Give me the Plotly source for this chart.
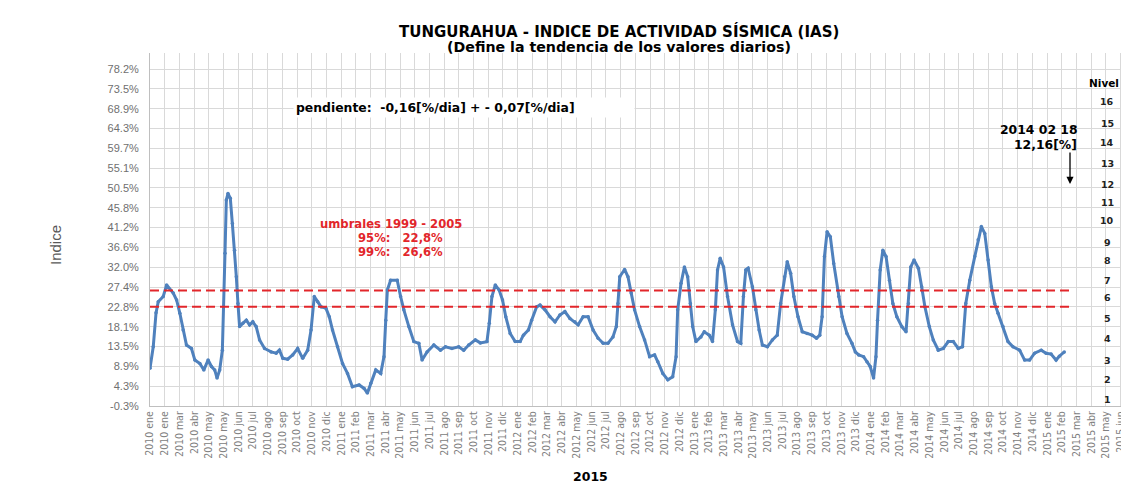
import plotly.graph_objects as go

# ---------------- data ----------------
x_labels = [
    "2010 ene", "2010 ene", "2010 mar", "2010 abr", "2010 may", "2010 may", "2010 jun",
    "2010 jul", "2010 ago", "2010 sep", "2010 oct", "2010 nov", "2010 dic",
    "2011 ene", "2011 feb", "2011 mar", "2011 abr", "2011 may", "2011 jun",
    "2011 jul", "2011 ago", "2011 sep", "2011 oct", "2011 nov", "2011 dic",
    "2012 ene", "2012 feb", "2012 mar", "2012 abr", "2012 may", "2012 jun",
    "2012 jul", "2012 ago", "2012 sep", "2012 oct", "2012 nov", "2012 dic",
    "2013 ene", "2013 feb", "2013 mar", "2013 abr", "2013 may", "2013 jun",
    "2013 jul", "2013 ago", "2013 sep", "2013 oct", "2013 nov", "2013 dic",
    "2014 ene", "2014 feb", "2014 mar", "2014 abr", "2014 may", "2014 jun",
    "2014 jul", "2014 ago", "2014 sep", "2014 oct", "2014 nov", "2014 dic",
    "2015 ene", "2015 feb", "2015 mar", "2015 abr", "2015 may", "2015 jun",
]

y_tick_labels = ["-0.3%", "4.3%", "8.9%", "13.5%", "18.1%", "22.8%", "27.4%", "32.0%",
                 "36.6%", "41.2%", "45.8%", "50.5%", "55.1%", "59.7%", "64.3%",
                 "68.9%", "73.5%", "78.2%"]
y_tick_min = -0.3
y_tick_max = 78.2

# position along the axis, in label units (one label = 30 days)
month_pos = [
    0.00, 0.22, 0.41, 0.56, 0.90, 1.13, 1.58, 1.81, 2.03, 2.25, 2.48, 2.82, 3.05, 3.39,
    3.66, 3.95, 4.18, 4.40, 4.56, 4.74, 4.92, 5.10, 5.19, 5.30, 5.46, 5.60, 5.75, 5.87,
    5.98, 6.09, 6.32, 6.55, 6.77, 6.99, 7.22, 7.45, 7.79, 8.24, 8.58, 8.80, 9.03, 9.36,
    9.70, 10.04, 10.38, 10.72, 10.95, 11.17, 11.40, 11.63, 11.96, 12.19, 12.41, 12.75,
    13.09, 13.43, 13.76, 14.22, 14.56, 14.78, 15.01, 15.35, 15.69, 15.91, 16.03, 16.14,
    16.36, 16.81, 17.04, 17.26, 17.60, 17.94, 18.28, 18.50, 18.84, 19.30, 19.75, 20.09,
    20.53, 20.99, 21.33, 21.67, 22.12, 22.46, 22.91, 23.07, 23.25, 23.48, 23.74, 23.97,
    24.19, 24.49, 24.83, 25.17, 25.39, 25.73, 25.95, 26.29, 26.52, 26.86, 27.20, 27.54,
    27.87, 28.21, 28.55, 28.89, 29.11, 29.45, 29.79, 30.13, 30.47, 30.81, 31.14, 31.48,
    31.71, 31.82, 31.94, 32.27, 32.50, 32.72, 32.95, 33.29, 33.63, 33.97, 34.31, 34.53,
    34.87, 35.21, 35.54, 35.77, 35.88, 36.11, 36.34, 36.56, 36.74, 36.90, 37.12, 37.46,
    37.69, 38.03, 38.25, 38.44, 38.59, 38.77, 39.00, 39.27, 39.61, 39.95, 40.17, 40.35,
    40.51, 40.67, 40.96, 41.19, 41.42, 41.64, 41.98, 42.32, 42.65, 42.88, 43.15, 43.33,
    43.56, 43.78, 44.06, 44.35, 44.68, 45.02, 45.32, 45.54, 45.70, 45.86, 46.04, 46.26,
    46.49, 46.83, 47.06, 47.39, 47.73, 47.96, 48.19, 48.52, 48.75, 48.97, 49.20, 49.36,
    49.47, 49.65, 49.83, 50.05, 50.28, 50.51, 50.78, 51.12, 51.41, 51.57, 51.73, 51.95,
    52.25, 52.47, 52.69, 52.99, 53.26, 53.60, 53.94, 54.28, 54.62, 54.96, 55.25, 55.47,
    55.74, 56.08, 56.31, 56.53, 56.76, 56.99, 57.21, 57.43, 57.66, 58.00, 58.34, 58.68,
    59.13, 59.47, 59.81, 60.15, 60.60, 60.93, 61.27, 61.61, 61.83, 62.17,
]
ias_pct = [
    8.5, 13.5, 21.4, 24.0, 25.2, 27.9, 26.0, 24.4, 21.3, 17.4, 13.9, 13.1, 10.4, 9.6,
    8.1, 10.4, 8.9, 8.1, 6.2, 8.1, 12.7, 35.3, 47.7, 49.2, 48.1, 42.2, 36.0, 29.8,
    23.6, 18.2, 19.0, 19.7, 18.6, 19.3, 18.2, 15.1, 13.1, 12.3, 12.0, 12.7, 10.8, 10.6,
    11.6, 13.1, 10.8, 12.7, 17.4, 25.2, 24.0, 22.8, 22.5, 20.5, 17.4, 13.5,
    9.6, 7.3, 4.2, 4.6, 3.8, 2.7, 5.0, 8.1, 7.3, 11.2, 19.7, 26.7,
    29.0, 29.0, 25.2, 22.1, 18.2, 14.7, 14.3, 10.4, 12.3, 13.9, 12.7, 13.5,
    13.1, 13.5, 12.7, 13.9, 15.1, 14.4, 14.7, 19.0, 25.2, 27.9, 26.7, 24.4,
    20.5, 16.6, 14.7, 14.7, 16.2, 17.4, 19.7, 22.8, 23.2, 22.1, 20.5, 19.3,
    20.9, 21.7, 20.1, 19.3, 18.6, 20.5, 20.5, 17.4, 15.5, 14.3, 14.3, 15.8,
    18.2, 23.6, 29.8, 31.5, 29.8, 26.0, 22.1, 18.2, 15.1, 11.2, 11.6, 10.0,
    7.3, 5.8, 6.5, 11.2, 22.1, 28.3, 32.1, 29.8, 23.6, 18.2, 14.7, 15.8,
    17.0, 16.2, 14.7, 22.1, 31.4, 34.1, 32.1, 25.2, 18.6, 14.7, 14.3, 25.2,
    31.4, 31.8, 27.5, 22.1, 17.4, 13.9, 13.5, 15.1, 16.2, 23.6, 29.8, 33.3,
    30.6, 25.2, 20.5, 17.0, 16.6, 16.2, 15.5, 16.2, 20.5, 34.5, 40.3, 39.1,
    32.9, 25.2, 20.5, 16.6, 14.3, 12.3, 11.6, 11.2, 10.0, 8.9, 6.2, 11.2,
    19.7, 31.4, 36.0, 34.5, 29.0, 23.6, 20.5, 18.2, 17.0, 23.6, 32.1, 33.7,
    31.8, 27.5, 22.8, 18.2, 15.1, 12.7, 13.1, 14.7, 14.7, 13.1, 13.5, 23.6,
    29.0, 34.5, 38.4, 41.5, 39.9, 33.7, 27.5, 23.6, 21.3, 18.2, 14.7, 13.5,
    12.7, 10.4, 10.4, 12.0, 12.7, 12.0, 11.8, 10.4, 11.3, 12.3,
]

thresholds_pct = [22.8, 26.6]

nivel_labels = ["1", "2", "3", "4", "5", "6", "7", "8", "9", "10", "11", "12", "13", "14", "15", "16"]
nivel_pct = [1.1, 5.8, 10.2, 15.5, 20.2, 24.9, 29.0, 33.5, 37.9, 42.8, 47.0, 51.2, 56.3, 61.0, 65.4, 70.7]

# ---------------- layout helpers ----------------
PAGE_W, PAGE_H = 1129, 486
OFF = 8                              # default page margin around the plot div
W, H = PAGE_W - OFF, PAGE_H - OFF
L, R, T, B = 150, 1128, 53, 406      # plot area in page pixels
X_SPAN = 66.5                        # label units visible
n_ticks = len(y_tick_labels)
y_step = (y_tick_max - y_tick_min) / (n_ticks - 1)
y_tick_vals = [y_tick_min + i * y_step for i in range(n_ticks)]
y_top = y_tick_max + (y_step * 16.0 / 19.8)


def pxx(xp):
    return (xp - L) / (R - L)


def pxy(yp):
    return (B - yp) / (B - T)


BLUE = "#4f81bd"
RED = "#e2262b"
GRID = "#d9d9d9"
BOLD = "DejaVu Sans"

fig = go.Figure()

fig.add_trace(go.Scatter(
    x=month_pos, y=ias_pct, mode="lines+markers",
    line=dict(color=BLUE, width=3),
    marker=dict(color=BLUE, size=3.5),
    hoverinfo="skip", showlegend=False,
))

for t in thresholds_pct:
    fig.add_shape(type="line", xref="paper", yref="y",
                  x0=0, x1=pxx(1074), y0=t, y1=t,
                  line=dict(color=RED, width=2, dash="9px,5px"))

annotations = []


def add_text(text, xp, yp, size, color="#000000", bold=True, xanchor="center",
             family=BOLD, angle=0, **kw):
    annotations.append(dict(
        text=("<b>%s</b>" % text) if bold else text,
        x=pxx(xp), y=pxy(yp), xref="paper", yref="paper",
        xanchor=xanchor, yanchor="middle", showarrow=False,
        textangle=angle,
        font=dict(family=family, size=size, color=color), **kw))


add_text("TUNGURAHUA - INDICE DE ACTIVIDAD SÍSMICA (IAS)", 619, 32, 15)
add_text("(Define la tendencia de los valores diarios)", 619, 46.5, 14.2)
add_text("pendiente:  -0,16[%/dia] + - 0,07[%/dia]", 293, 107, 12.4,
         xanchor="left", bgcolor="#ffffff", width=336, align="left", borderpad=2)
add_text("umbrales 1999 - 2005", 391, 224, 11.6, color=RED)
add_text("95%:   22,8%", 400, 238, 11.6, color=RED)
add_text("99%:   26,6%", 400, 252, 11.6, color=RED)
add_text("2014 02 18", 1039, 130, 12.4)
add_text("12,16[%]", 1079, 144, 12.4, xanchor="right")
add_text("Nivel", 1104, 83, 10.5)
add_text("Indice", 55, 245, 15, color="#595959", bold=False,
         family="Liberation Sans Narrow, Liberation Sans, Arial", angle=-90)
add_text("2015", 590, 476, 12.5)

for lab, val in zip(nivel_labels, nivel_pct):
    annotations.append(dict(
        text="<b>%s</b>" % lab, x=pxx(1107), y=val, xref="paper", yref="y",
        xanchor="center", yanchor="middle", showarrow=False,
        font=dict(family=BOLD, size=9.5, color="#222222")))

# arrow pointing down
annotations.append(dict(
    text="", x=pxx(1070), y=pxy(184), xref="paper", yref="paper",
    showarrow=True, ax=0, ay=-33, arrowhead=2, arrowsize=1.1,
    arrowwidth=1.3, arrowcolor="#000000"))

fig.update_layout(
    width=W, height=H,
    margin=dict(l=L - OFF, r=PAGE_W - R, t=T - OFF, b=PAGE_H - B, pad=0, autoexpand=False),
    paper_bgcolor="#ffffff", plot_bgcolor="#ffffff",
    annotations=annotations,
    showlegend=False,
)

fig.update_xaxes(
    range=[0, X_SPAN], automargin=False,
    tickmode="array", tickvals=list(range(len(x_labels))), ticktext=x_labels,
    tickangle=-90,
    tickfont=dict(family="DejaVu Sans Condensed, Liberation Sans Narrow, Arial",
                  size=10.5, color="#808080"),
    showgrid=True, gridcolor=GRID, gridwidth=1,
    showline=True, linecolor="#bfbfbf", linewidth=1,
    ticks="", zeroline=False,
)
fig.update_yaxes(
    range=[y_tick_min, y_top], automargin=False,
    tickmode="array", tickvals=y_tick_vals, ticktext=y_tick_labels,
    tickfont=dict(family="Liberation Sans, Arial", size=11, color="#707070"),
    showgrid=True, gridcolor=GRID, gridwidth=1,
    showline=True, linecolor="#bfbfbf", linewidth=1,
    ticks="outside", ticklen=8, tickcolor="rgba(0,0,0,0)",
    zeroline=False,
)

fig.write_html("out.html")
